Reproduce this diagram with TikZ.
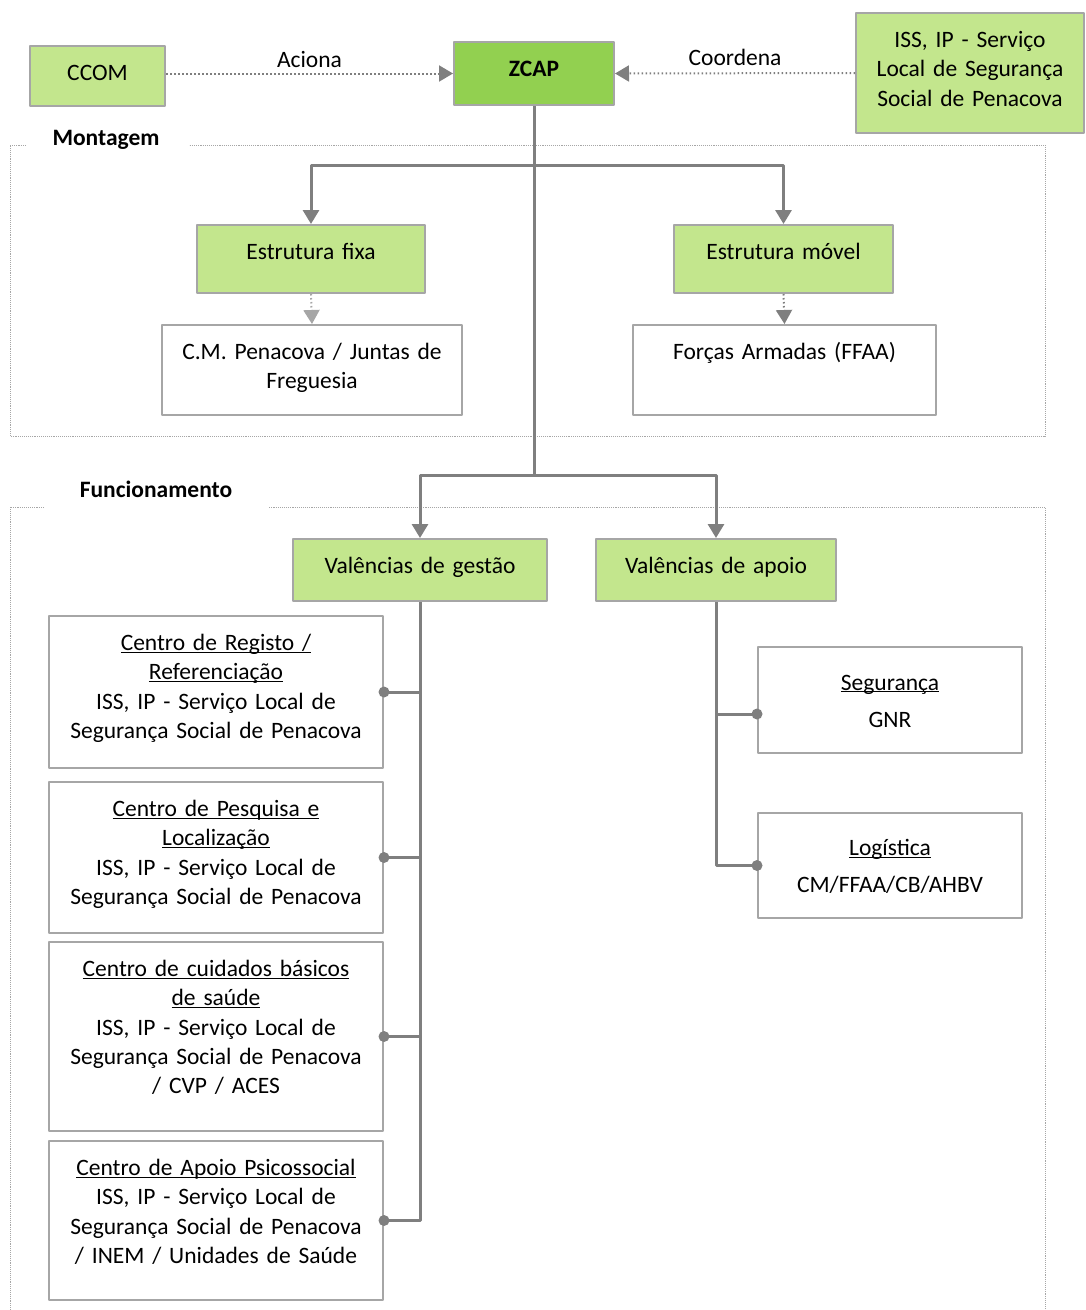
\documentclass[tikz,border=0pt]{standalone}
\usepackage{fontspec}
\setmainfont{Carlito}
\usetikzlibrary{arrows.meta}
\definecolor{zgreen}{HTML}{92D050}
\definecolor{lgreen}{HTML}{C3E68D}
\definecolor{edge}{HTML}{A6A6A6}
\definecolor{wire}{HTML}{7F7F7F}
\newcommand\zfont{\fontsize{23.5}{29.3}\selectfont}
\newcommand\ulbox[1]{\underline{\raisebox{0pt}[\height][0pt]{#1}}}
\begin{document}
\begin{tikzpicture}[x=1pt,y=-1pt,line join=round,
  >={Triangle[width=16pt,length=14pt]},
  box/.style={draw=edge,line width=2pt,fill=white,anchor=north,align=center,
    inner xsep=5pt,inner ysep=17.5pt,text height=17pt,font=\zfont},
  gbox/.style={box,fill=lgreen},
  link/.style={draw=wire,line width=3pt},
  hint/.style={draw=wire,line width=2pt,dash pattern=on 1.5pt off 2.5pt},
  frame/.style={draw=edge,line width=0.9pt,densely dotted},
  title/.style={font=\zfont\bfseries},
  tag/.style={font=\zfont}]
  \useasboundingbox (0,0) rectangle (1086,1310);
  % top row
  \node[gbox,text width=125pt,text depth=8pt] (ccom) at (97.5,45) {CCOM};
  \node[gbox,fill=zgreen,text width=150pt,text depth=11pt,font=\zfont\bfseries] (zcap) at (534,41) {ZCAP};
  \node[gbox,text width=218pt,text depth=68pt] (iss) at (970,12) {ISS, IP - Serviço\\Local de Segurança\\Social de Penacova};
  \draw[hint,->] (ccom.east |- zcap.west) -- node[tag,above=1pt] (aciona) {Aciona} (zcap.west);
  \draw[hint,->] (iss.west) -- node[tag,above=3pt] (coordena) {Coordena} (zcap.east);
  % Montagem
  \draw[frame] (26,145) -- (10,145) -- (10,436) -- (1045,436) -- (1045,145) -- (189,145);
  \node[title] (montagem) at (106,140) {Montagem};
  \node[gbox,text width=218pt,text depth=16pt] (fixa) at (311,224) {Estrutura fixa};
  \node[gbox,text width=209pt,text depth=16pt] (movel) at (783.5,224) {Estrutura móvel};
  \node[box,text width=290pt,text depth=38pt] (cmp) at (312,324) {C.M. Penacova / Juntas de\\Freguesia};
  \node[box,text width=293pt,text depth=38pt] (ffaa) at (784.5,324) {Forças Armadas (FFAA)};
  \draw[hint,->,draw=edge] (fixa.south) -- (cmp.north);
  \draw[hint,->] (movel.south) -- (ffaa.north);
  % Funcionamento
  \draw[frame] (44,507) -- (10,507) -- (10,1320) (1045,1320) -- (1045,507) -- (269,507);
  \node[title] (funcion) at (156,489) {Funcionamento};
  \node[gbox,text width=244pt,text depth=10pt] (gestao) at (420,538) {Valências de gestão};
  \node[gbox,text width=230pt,text depth=10pt] (apoio) at (716,538) {Valências de apoio};
  \node[box,text width=324pt,text depth=100pt] (reg) at (216,615)
    {\ulbox{Centro de Registo /}\\\ulbox{Referenciação}\\ISS, IP - Serviço Local de\\Segurança Social de Penacova};
  \node[box,text width=324pt,text depth=99pt] (pesq) at (216,781)
    {\ulbox{Centro de Pesquisa e}\\\ulbox{Localização}\\ISS, IP - Serviço Local de\\Segurança Social de Penacova};
  \node[box,text width=324pt,text depth=137pt] (saude) at (216,941)
    {\ulbox{Centro de cuidados básicos}\\\ulbox{de saúde}\\ISS, IP - Serviço Local de\\Segurança Social de Penacova\\/ CVP / ACES};
  \node[box,text width=324pt,text depth=107pt] (psic) at (216,1140)
    {\ulbox{Centro de Apoio Psicossocial}\\ISS, IP - Serviço Local de\\Segurança Social de Penacova\\/ INEM / Unidades de Saúde};
  \node[box,text width=254pt,text height=25.5pt,text depth=45.5pt] (seg) at (890,646) {\ulbox{Segurança}\\[8pt]GNR};
  \node[box,text width=254pt,text height=25pt,text depth=45pt] (log) at (890,812) {\ulbox{Logística}\\[8pt]CM/FFAA/CB/AHBV};
  % links
  \coordinate (j1) at (534,165);
  \coordinate (j2) at (534,475);
  \coordinate (segpin) at ([yshift=-14pt]seg.west);
  \draw[link] (zcap.south) -- (j2);
  \draw[link,->] (j1) -| (fixa.north);
  \draw[link,->] (j1) -| (movel.north);
  \draw[link,->] (j2) -| (gestao.north);
  \draw[link,->] (j2) -| (apoio.north);
  \draw[link] (gestao.south) |- (psic.east);
  \foreach \b in {reg,pesq,saude}
    \draw[link] (\b.east) -- (\b.east -| gestao.south);
  \draw[link] (apoio.south) |- (log.west);
  \draw[link] (segpin) -- (segpin -| apoio.south);
  \foreach \b in {reg,pesq,saude,psic}
    \fill[wire] (\b.east) circle (5.5pt);
  \fill[wire] (segpin) circle (5.5pt);
  \fill[wire] (log.west) circle (5.5pt);
\end{tikzpicture}
\end{document}
